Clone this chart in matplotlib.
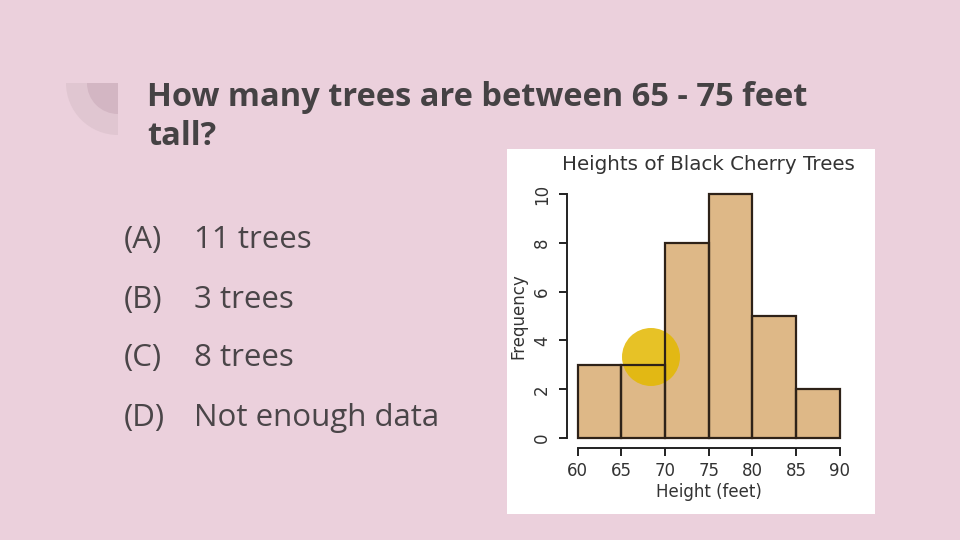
import matplotlib
matplotlib.use("Agg")
import matplotlib.pyplot as plt
from matplotlib.patches import Rectangle, Wedge, Circle

plt.rcParams["font.family"] = ["DejaVu Sans"]

# ---- data ----
bin_edges = [60, 65, 70, 75, 80, 85, 90]
counts = [3, 3, 8, 10, 5, 2]
x_ticks = [60, 65, 70, 75, 80, 85, 90]
y_ticks = [0, 2, 4, 6, 8, 10]
question_lines = ["How many trees are between 65 - 75 feet", "tall?"]
option_letters = ["(A)", "(B)", "(C)", "(D)"]
option_texts = ["11 trees", "3 trees", "8 trees", "Not enough data"]
chart_title = "Heights of Black Cherry Trees"
x_label = "Height (feet)"
y_label = "Frequency"

W, H = 960, 540
BG = "#ebd0dc"
CF = "DejaVu Sans"
fig = plt.figure(figsize=(W / 100, H / 100), dpi=100, facecolor=BG)

def fx(px):
    return px / W

def fy(py):
    return 1 - py / H

# decorative quarter discs (top-left)
deco = fig.add_axes([0, 0, 1, 1], facecolor="none")
deco.set_xlim(0, W)
deco.set_ylim(H, 0)
deco.axis("off")
deco.add_patch(Wedge((118, 83), 52, 90, 180, facecolor="#e0c6d1", edgecolor="none"))
deco.add_patch(Wedge((118, 83), 31, 90, 180, facecolor="#d3b6c3", edgecolor="none"))
# white panel for the chart image
deco.add_patch(Rectangle((507, 149), 368, 365, facecolor="white", edgecolor="none"))

# question text
for yy, line in zip([106, 145], question_lines):
    fig.text(fx(147), fy(yy), line, fontsize=23.5, fontweight="bold",
             family="Open Sans", color="#454244", va="baseline", ha="left")

# options
ys = [240, 300, 358, 418]
for yy, let, txt in zip(ys, option_letters, option_texts):
    fig.text(fx(124), fy(yy), let, fontsize=22.5, family="Open Sans", color="#4a4548",
             va="center", ha="left")
    fig.text(fx(194), fy(yy), txt, fontsize=22.5, family="Open Sans", color="#4a4548",
             va="center", ha="left")

# histogram axes
left, right, top, bottom = 567, 850.5, 184.2, 447.8
rect = [fx(left), fy(bottom), fx(right - left), (bottom - top) / H]
ax = fig.add_axes(rect, facecolor="none")
widths = [bin_edges[i + 1] - bin_edges[i] for i in range(len(counts))]
ax.bar(bin_edges[:-1], counts, width=widths, align="edge", color="#deb887",
       edgecolor="none", linewidth=0, zorder=2)
ax.set_xlim(58.8, 91.2)
ax.set_ylim(-0.4, 10.4)
for s in ["top", "right"]:
    ax.spines[s].set_visible(False)
ax.spines["left"].set_bounds(0, 10)
ax.spines["bottom"].set_bounds(60, 90)
for s in ["left", "bottom"]:
    ax.spines[s].set_linewidth(1.4)
    ax.spines[s].set_color("#222222")
ax.set_xticks(x_ticks)
ax.set_yticks(y_ticks)
ax.tick_params(axis="both", direction="out", length=5.5, width=1.4,
               colors="#222222", labelsize=12, labelcolor="#333333")
ax.tick_params(axis="x", pad=5)
ax.tick_params(axis="y", pad=6)
for lab in ax.get_yticklabels():
    lab.set_rotation(90)
    lab.set_va("center")
ax.set_title(chart_title, fontsize=14.3, color="#333333", pad=10, family=CF)
ax.set_xlabel(x_label, fontsize=12, color="#333333", labelpad=2, family=CF)
ax.set_ylabel(y_label, fontsize=12, color="#333333", labelpad=4, family=CF)

# cursor highlight
deco2 = fig.add_axes([0, 0, 1, 1], facecolor="none")
deco2.set_xlim(0, W)
deco2.set_ylim(H, 0)
deco2.axis("off")
deco2.add_patch(Circle((651, 357), 29, facecolor="#e3b800", alpha=0.85,
                       edgecolor="none"))

# bar outlines on top
ax2 = fig.add_axes(rect, facecolor="none")
ax2.bar(bin_edges[:-1], counts, width=widths, align="edge", facecolor="none",
        edgecolor="#2e2218", linewidth=1.6)
ax2.set_xlim(58.8, 91.2)
ax2.set_ylim(-0.4, 10.4)
ax2.axis("off")

fig.savefig("out.png", dpi=100, facecolor=BG)
